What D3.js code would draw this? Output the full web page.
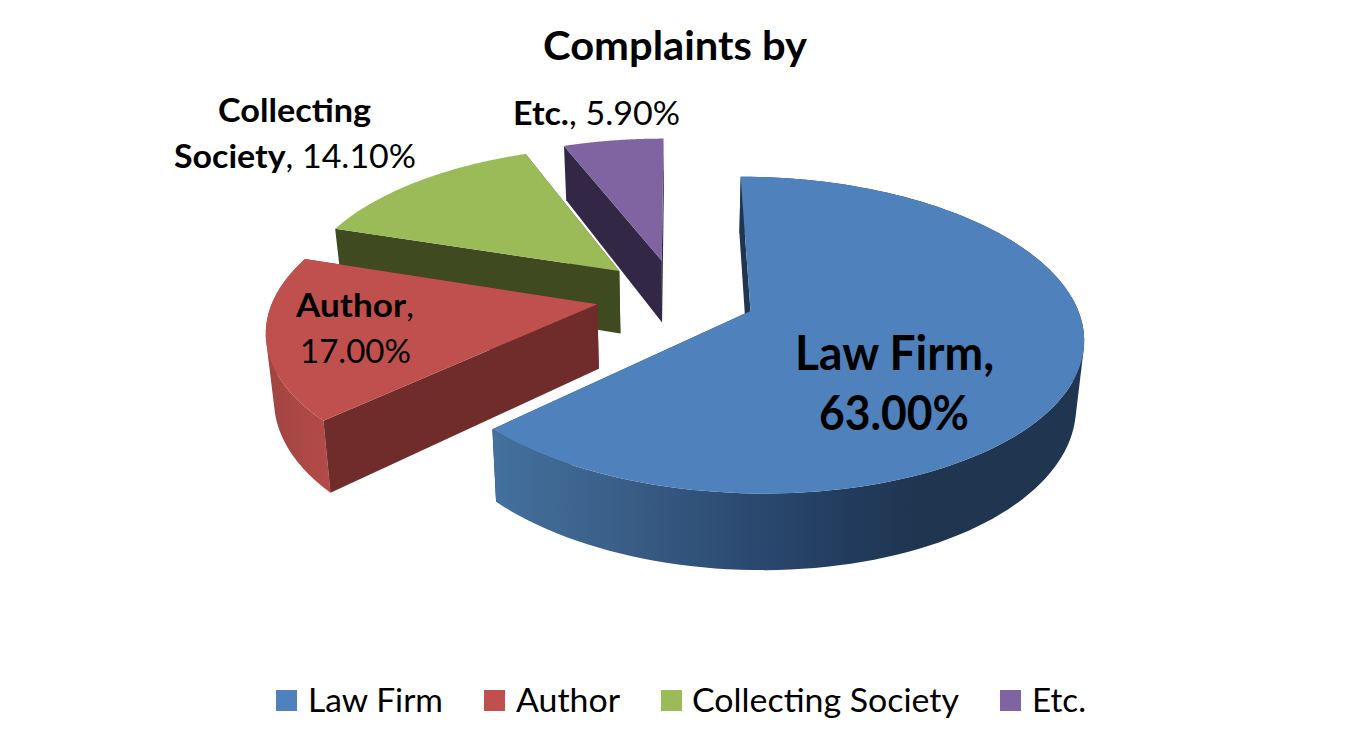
<!DOCTYPE html>
<html>
<head>
<meta charset="utf-8">
<script src="https://cdn.jsdelivr.net/npm/d3@7"></script>
<style>
  body { margin: 0; background: #fff; }
  text { font-family: Lato, "Open Sans", sans-serif; fill: #000; }
</style>
</head>
<body>
<div id="chart"></div>
<script>
var categories = ["Law Firm", "Author", "Collecting Society", "Etc."]
var shares = [63.0, 17.0, 14.1, 5.9]
var topColors = ["#4f81bd", "#c0504d", "#9bbb59", "#8064a2"]
var sideColors = ["#1f3550", "#6f2c2b", "#3f4a21", "#322845"]

var width = 1350, height = 742

var svg = d3.select("#chart").append("svg")
  .attr("width", width)
  .attr("height", height)
  .style("display", "block")

// shape of the tilted disc
var cx = 676, cy = 296, R = 323, explode = 80
var persp = 0.15, squash = 0.465, depth = 64, bottomShrink = 0.98

// plane point -> screen, z is 0 on the top face and 1 on the bottom face
function project(wx, wy, z) {
  var s = 1 / (1 + persp * wy / R)
  var x = wx * s
  return [cx + x * (z ? bottomShrink : 1), cy - squash * wy * s + (z ? depth * s : 0)]
}

var arcs = d3.pie().sort(null).value(d => d)
  .startAngle(0).endAngle(2 * Math.PI)(shares)

var line = d3.line()

function rim(d, z) {
  var mid = (d.startAngle + d.endAngle) / 2
  var ox = explode * Math.sin(mid), oy = explode * Math.cos(mid)
  return d3.range(0, 121).map(i => {
    var a = d.startAngle + (d.endAngle - d.startAngle) * i / 120
    return project(ox + R * Math.sin(a), oy + R * Math.cos(a), z)
  })
}

function apex(d, z) {
  var mid = (d.startAngle + d.endAngle) / 2
  return project(explode * Math.sin(mid), explode * Math.cos(mid), z)
}

// round wall as one path of small quads, all wound the same way so the
// fold at the silhouette does not cancel out
function roundWall(top, bot) {
  return d3.range(0, top.length - 1).map(i => {
    var q = [top[i], top[i + 1], bot[i + 1], bot[i]]
    if (d3.polygonArea(q) < 0) q.reverse()
    return line(q) + "Z"
  }).join("")
}

// gradients on the round outer wall
var defs = svg.append("defs")
var blueWall = defs.append("linearGradient").attr("id", "wall0")
  .attr("gradientUnits", "userSpaceOnUse")
  .attr("x1", 490).attr("x2", 1085).attr("y1", 0).attr("y2", 0)
blueWall.selectAll("stop")
  .data([[0, "#44719f"], [0.2, "#3b6089"], [0.42, "#2c4b72"], [0.6, "#233c5e"], [0.72, "#1f3550"], [1, "#1f3550"]])
  .enter().append("stop")
  .attr("offset", d => d[0]).attr("stop-color", d => d[1])
var redWall = defs.append("linearGradient").attr("id", "wall1")
  .attr("gradientUnits", "userSpaceOnUse")
  .attr("x1", 265).attr("x2", 330).attr("y1", 0).attr("y2", 0)
redWall.selectAll("stop")
  .data([[0, "#a04441"], [1, "#b44b48"]])
  .enter().append("stop")
  .attr("offset", d => d[0]).attr("stop-color", d => d[1])

// back to front
var order = [3, 2, 1, 0]
order.forEach(i => {
  var d = arcs[i]
  var top = rim(d, 0), bot = rim(d, 1)
  var g = svg.append("g")
  var endWall = [apex(d, 0), top[top.length - 1], bot[bot.length - 1], apex(d, 1)]
  var startWall = [apex(d, 0), top[0], bot[0], apex(d, 1)]
  g.append("path").attr("d", line(endWall) + "Z").attr("fill", sideColors[i])
  // the round wall, green and purple have theirs hidden at the back
  if (i < 2) {
    g.append("path")
      .attr("d", roundWall(top, bot))
      .attr("fill", "url(#wall" + i + ")")
  }
  g.append("path").attr("d", line(startWall) + "Z").attr("fill", sideColors[i])
  // top face
  g.append("path")
    .attr("d", line([apex(d, 0)].concat(top)) + "Z")
    .attr("fill", topColors[i])
})

var fmt = d => d3.format(".2f")(d) + "%"

// text fitted to a given left edge and width
function fitted(parent, x, y, w, size) {
  return parent.append("text")
    .attr("x", x).attr("y", y)
    .attr("font-size", size)
    .attr("textLength", w)
    .attr("lengthAdjust", "spacingAndGlyphs")
}

fitted(svg, 543, 60, 264, 40).attr("font-weight", "bold").text("Complaints by")

// data labels
var labels = svg.append("g")
fitted(labels, 218, 122, 153, 33).attr("font-weight", "bold").text("Collecting")
var soc = fitted(labels, 174, 168, 242, 33)
soc.append("tspan").attr("font-weight", "bold").text("Society")
soc.append("tspan").text(", " + fmt(shares[2]))
var etc = fitted(labels, 513, 125, 167, 33)
etc.append("tspan").attr("font-weight", "bold").text(categories[3])
etc.append("tspan").text(", " + fmt(shares[3]))
var au = fitted(labels, 296, 317, 118, 33)
au.append("tspan").attr("font-weight", "bold").text(categories[1])
au.append("tspan").text(",")
fitted(labels, 300, 363, 111, 33).text(fmt(shares[1]))
fitted(labels, 795, 370, 199, 47).attr("font-weight", "bold").text(categories[0] + ",")
fitted(labels, 819, 430, 150, 47).attr("font-weight", "bold").text(fmt(shares[0]))

// legend
var legendSquares = [276, 484, 661, 1000]
var legendText = [[308, 135], [516, 104], [692, 267], [1032, 54]]
var legend = svg.append("g")
legend.selectAll("rect").data(categories).enter().append("rect")
  .attr("x", (d, i) => legendSquares[i]).attr("y", 690)
  .attr("width", 21).attr("height", 21)
  .attr("fill", (d, i) => topColors[i])
categories.forEach((c, i) => {
  fitted(legend, legendText[i][0], 712, legendText[i][1], 33).text(c)
})
</script>
</body>
</html>
